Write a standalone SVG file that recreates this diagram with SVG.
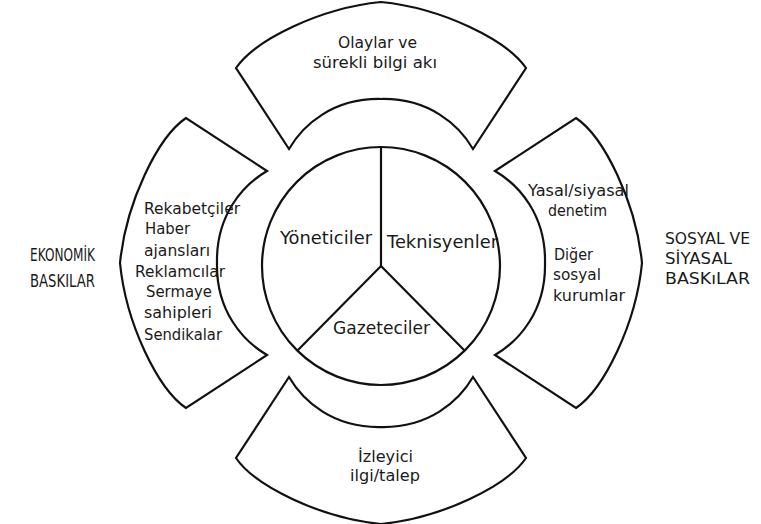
<svg xmlns="http://www.w3.org/2000/svg" xmlns:xlink="http://www.w3.org/1999/xlink" width="761" height="524" viewBox="0 0 761 524">
<style>
.ln{fill:none;stroke:#111;stroke-width:2.2;stroke-linejoin:miter;stroke-linecap:round}
.sg{fill:#fff;stroke:#111;stroke-width:2.2;stroke-linejoin:miter}
text{font-family:"DejaVu Sans","Liberation Sans",sans-serif;fill:#1a1a1a}
.t{font-size:15.5px}
.c{font-size:17.5px}
.l{font-size:17px}
.r{font-size:15.5px}
</style>
<defs>
<path id="seg" d="M -145,-195 C -126,-223 -61,-255 0,-261 C 61,-255 126,-223 145,-195 L 92,-114 C 78,-138 48,-165 0,-164 C -48,-165 -78,-138 -92,-114 Z"/>
</defs>
<rect width="761" height="524" fill="#fff"/>

<g id="top-segment">
<use href="#seg" xlink:href="#seg" class="sg" transform="translate(381,263)"/>
<text class="t" x="338" y="48" textLength="79" lengthAdjust="spacingAndGlyphs">Olaylar ve</text>
<text class="t" x="313" y="68" textLength="124" lengthAdjust="spacingAndGlyphs">sürekli bilgi akı</text>
</g>

<g id="left-segment">
<use href="#seg" xlink:href="#seg" class="sg" transform="translate(381,263) rotate(-90)"/>
<text class="t" x="144" y="214" textLength="96" lengthAdjust="spacingAndGlyphs">Rekabetçiler</text>
<text class="t" x="145" y="234" textLength="45" lengthAdjust="spacingAndGlyphs">Haber</text>
<text class="t" x="144" y="256" textLength="66" lengthAdjust="spacingAndGlyphs">ajansları</text>
<text class="t" x="135" y="277" textLength="90" lengthAdjust="spacingAndGlyphs">Reklamcılar</text>
<text class="t" x="146" y="297" textLength="66" lengthAdjust="spacingAndGlyphs">Sermaye</text>
<text class="t" x="144" y="318" textLength="68" lengthAdjust="spacingAndGlyphs">sahipleri</text>
<text class="t" x="144" y="340" textLength="78" lengthAdjust="spacingAndGlyphs">Sendikalar</text>
</g>

<g id="right-segment">
<use href="#seg" xlink:href="#seg" class="sg" transform="translate(381,263) rotate(90)"/>
<text class="t" x="528" y="196" textLength="101" lengthAdjust="spacingAndGlyphs">Yasal/siyasal</text>
<text class="t" x="548" y="216" textLength="59" lengthAdjust="spacingAndGlyphs">denetim</text>
<text class="t" x="554" y="260" textLength="39" lengthAdjust="spacingAndGlyphs">Diğer</text>
<text class="t" x="553" y="280" textLength="48" lengthAdjust="spacingAndGlyphs">sosyal</text>
<text class="t" x="553" y="301" textLength="72" lengthAdjust="spacingAndGlyphs">kurumlar</text>
</g>

<g id="bottom-segment">
<use href="#seg" xlink:href="#seg" class="sg" transform="translate(381,263) rotate(180)"/>
<text class="t" x="358" y="462" textLength="55" lengthAdjust="spacingAndGlyphs">İzleyici</text>
<text class="t" x="350" y="481" textLength="70" lengthAdjust="spacingAndGlyphs">ilgi/talep</text>
</g>

<g id="center-circle">
<circle cx="381" cy="266" r="119" class="ln"/>
<text class="c" x="280" y="244" textLength="92" lengthAdjust="spacingAndGlyphs">Yöneticiler</text>
<text class="c" x="387" y="248" textLength="111" lengthAdjust="spacingAndGlyphs">Teknisyenler</text>
<text class="c" x="333" y="334" textLength="97" lengthAdjust="spacingAndGlyphs">Gazeteciler</text>
</g>

<g id="connectors">
<line x1="381" y1="147" x2="381" y2="266" class="ln"/>
<line x1="381" y1="266" x2="298" y2="350" class="ln"/>
<line x1="381" y1="266" x2="464" y2="350" class="ln"/>
</g>

<g id="label-economic">
<text class="l" x="30" y="261" textLength="65" lengthAdjust="spacingAndGlyphs">EKONOMİK</text>
<text class="l" x="30" y="287" textLength="65" lengthAdjust="spacingAndGlyphs">BASKILAR</text>
</g>

<g id="label-social">
<text class="r" x="665" y="244" textLength="85" lengthAdjust="spacingAndGlyphs">SOSYAL VE</text>
<text class="r" x="665" y="264" textLength="67" lengthAdjust="spacingAndGlyphs">SİYASAL</text>
<text class="r" x="665" y="284" textLength="85" lengthAdjust="spacingAndGlyphs">BASKıLAR</text>
</g>
</svg>
